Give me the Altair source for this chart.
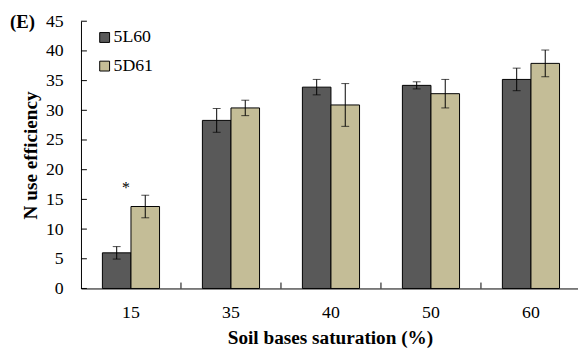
import altair as alt
import pandas as pd

categories = ["15", "35", "40", "50", "60"]
series_names = ["5L60", "5D61"]
series_colors = ["#595959", "#C4BD97"]
l60_mean = [6.0, 28.3, 33.9, 34.2, 35.2]
l60_err = [1.05, 2.0, 1.3, 0.6, 1.9]
d61_mean = [13.8, 30.4, 30.9, 32.8, 37.9]
d61_err = [1.9, 1.3, 3.6, 2.4, 2.25]
y_ticks = [0, 5, 10, 15, 20, 25, 30, 35, 40, 45]
sig_category = ["15"]
sig_label = ["*"]
sig_y = [16.0]
panel_label = "(E)"
x_title = "Soil bases saturation (%)"
y_title = "N use efficiency"

rows = []
for name, means, errs in ((series_names[0], l60_mean, l60_err),
                          (series_names[1], d61_mean, d61_err)):
    for c, m, e in zip(categories, means, errs):
        rows.append(dict(cat=c, series=name, mean=m, lo=m - e, hi=m + e))
df = pd.DataFrame(rows)

W, H = 504, 271
FONT = "Liberation Serif"
LBL = 18
TTL = 19.5

x_scale = alt.Scale(domain=categories, paddingInner=0, paddingOuter=0, range=[0, 507])
xoff_scale = alt.Scale(domain=series_names, paddingInner=0, paddingOuter=0.75)
y_scale = alt.Scale(domain=[0, 45], nice=False, zero=True)

x_axis = alt.Axis(ticks=False, tickSize=0, labelPadding=15, labelAngle=0,
                  labelFont=FONT, labelFontSize=LBL, labelColor="black",
                  domainColor="black", domainWidth=1, grid=False,
                  title=x_title, titleFont=FONT, titleFontSize=TTL,
                  titleFontWeight="bold", titleColor="black",
                  titleY=56, titleX=252.5, titleBaseline="alphabetic")
y_axis = alt.Axis(values=y_ticks, ticks=False, tickSize=0, labelPadding=18,
                  labelFont=FONT, labelFontSize=LBL, labelColor="black",
                  domainColor="black", domainWidth=1, grid=False,
                  title=y_title, titleFont=FONT, titleFontSize=TTL,
                  titleFontWeight="bold", titleColor="black",
                  titleX=-45, titleY=135.5, titleAngle=270,
                  titleBaseline="alphabetic", titleAlign="center")

X = alt.X("cat:N", scale=x_scale, axis=x_axis, sort=categories)
XO = alt.XOffset("series:N", scale=xoff_scale, sort=series_names)

bars = alt.Chart(df).mark_bar(stroke="black", strokeWidth=1).encode(
    x=X, xOffset=XO,
    y=alt.Y("mean:Q", scale=y_scale, axis=y_axis),
    fill=alt.Fill("series:N", scale=alt.Scale(domain=series_names, range=series_colors),
                  sort=series_names,
                  legend=alt.Legend(title=None, orient="none", legendX=15, legendY=7.5,
                                    symbolType="square", symbolSize=100,
                                    symbolStrokeColor="black", symbolStrokeWidth=1,
                                    labelFont=FONT, labelFontSize=LBL, labelColor="black",
                                    rowPadding=11, labelOffset=0, padding=0,
                                    direction="vertical")),
)

err_rule = alt.Chart(df).mark_rule(color="black", strokeWidth=1).encode(
    x=X, xOffset=XO,
    y=alt.Y("lo:Q", scale=y_scale, axis=y_axis), y2="hi:Q",
)
cap_lo = alt.Chart(df).mark_tick(color="black", size=8, thickness=1).encode(
    x=X, xOffset=XO, y=alt.Y("lo:Q", scale=y_scale, axis=y_axis),
)
cap_hi = alt.Chart(df).mark_tick(color="black", size=8, thickness=1).encode(
    x=X, xOffset=XO, y=alt.Y("hi:Q", scale=y_scale, axis=y_axis),
)

sig = alt.Chart(pd.DataFrame({"cat": sig_category, "label": sig_label, "y": sig_y})).mark_text(
    font=FONT, fontSize=16, baseline="alphabetic", dx=-5, color="#000000", fill="#000000", opacity=1
).encode(x=X, y=alt.Y("y:Q", scale=y_scale, axis=y_axis), text="label:N")

xticks = alt.Chart(pd.DataFrame({"cat": categories[1:]})).mark_rule(color="black").encode(
    x=alt.X("cat:N", scale=x_scale, axis=x_axis, sort=categories, bandPosition=0),
    y=alt.value(H), y2=alt.value(H - 6),
)
yticks = alt.Chart(pd.DataFrame({"v": y_ticks})).mark_rule(color="black").encode(
    y=alt.Y("v:Q", scale=y_scale, axis=y_axis), x=alt.value(0), x2=alt.value(6),
)

panel = alt.Chart(pd.DataFrame({"label": [panel_label]})).mark_text(
    align="left", baseline="middle", font=FONT, fontSize=19, fontWeight="bold", fill="black"
).encode(x=alt.value(-72), y=alt.value(1), text="label:N")

chart = alt.layer(bars, err_rule, cap_lo, cap_hi, sig, xticks, yticks, panel).properties(
    width=W, height=H,
    padding={"left": 74, "top": 11, "right": 0, "bottom": 61},
    autosize=alt.AutoSizeParams(type="none"),
).configure_view(stroke=None)

chart.save("out.html", embed_options={"renderer": "svg", "actions": False})
